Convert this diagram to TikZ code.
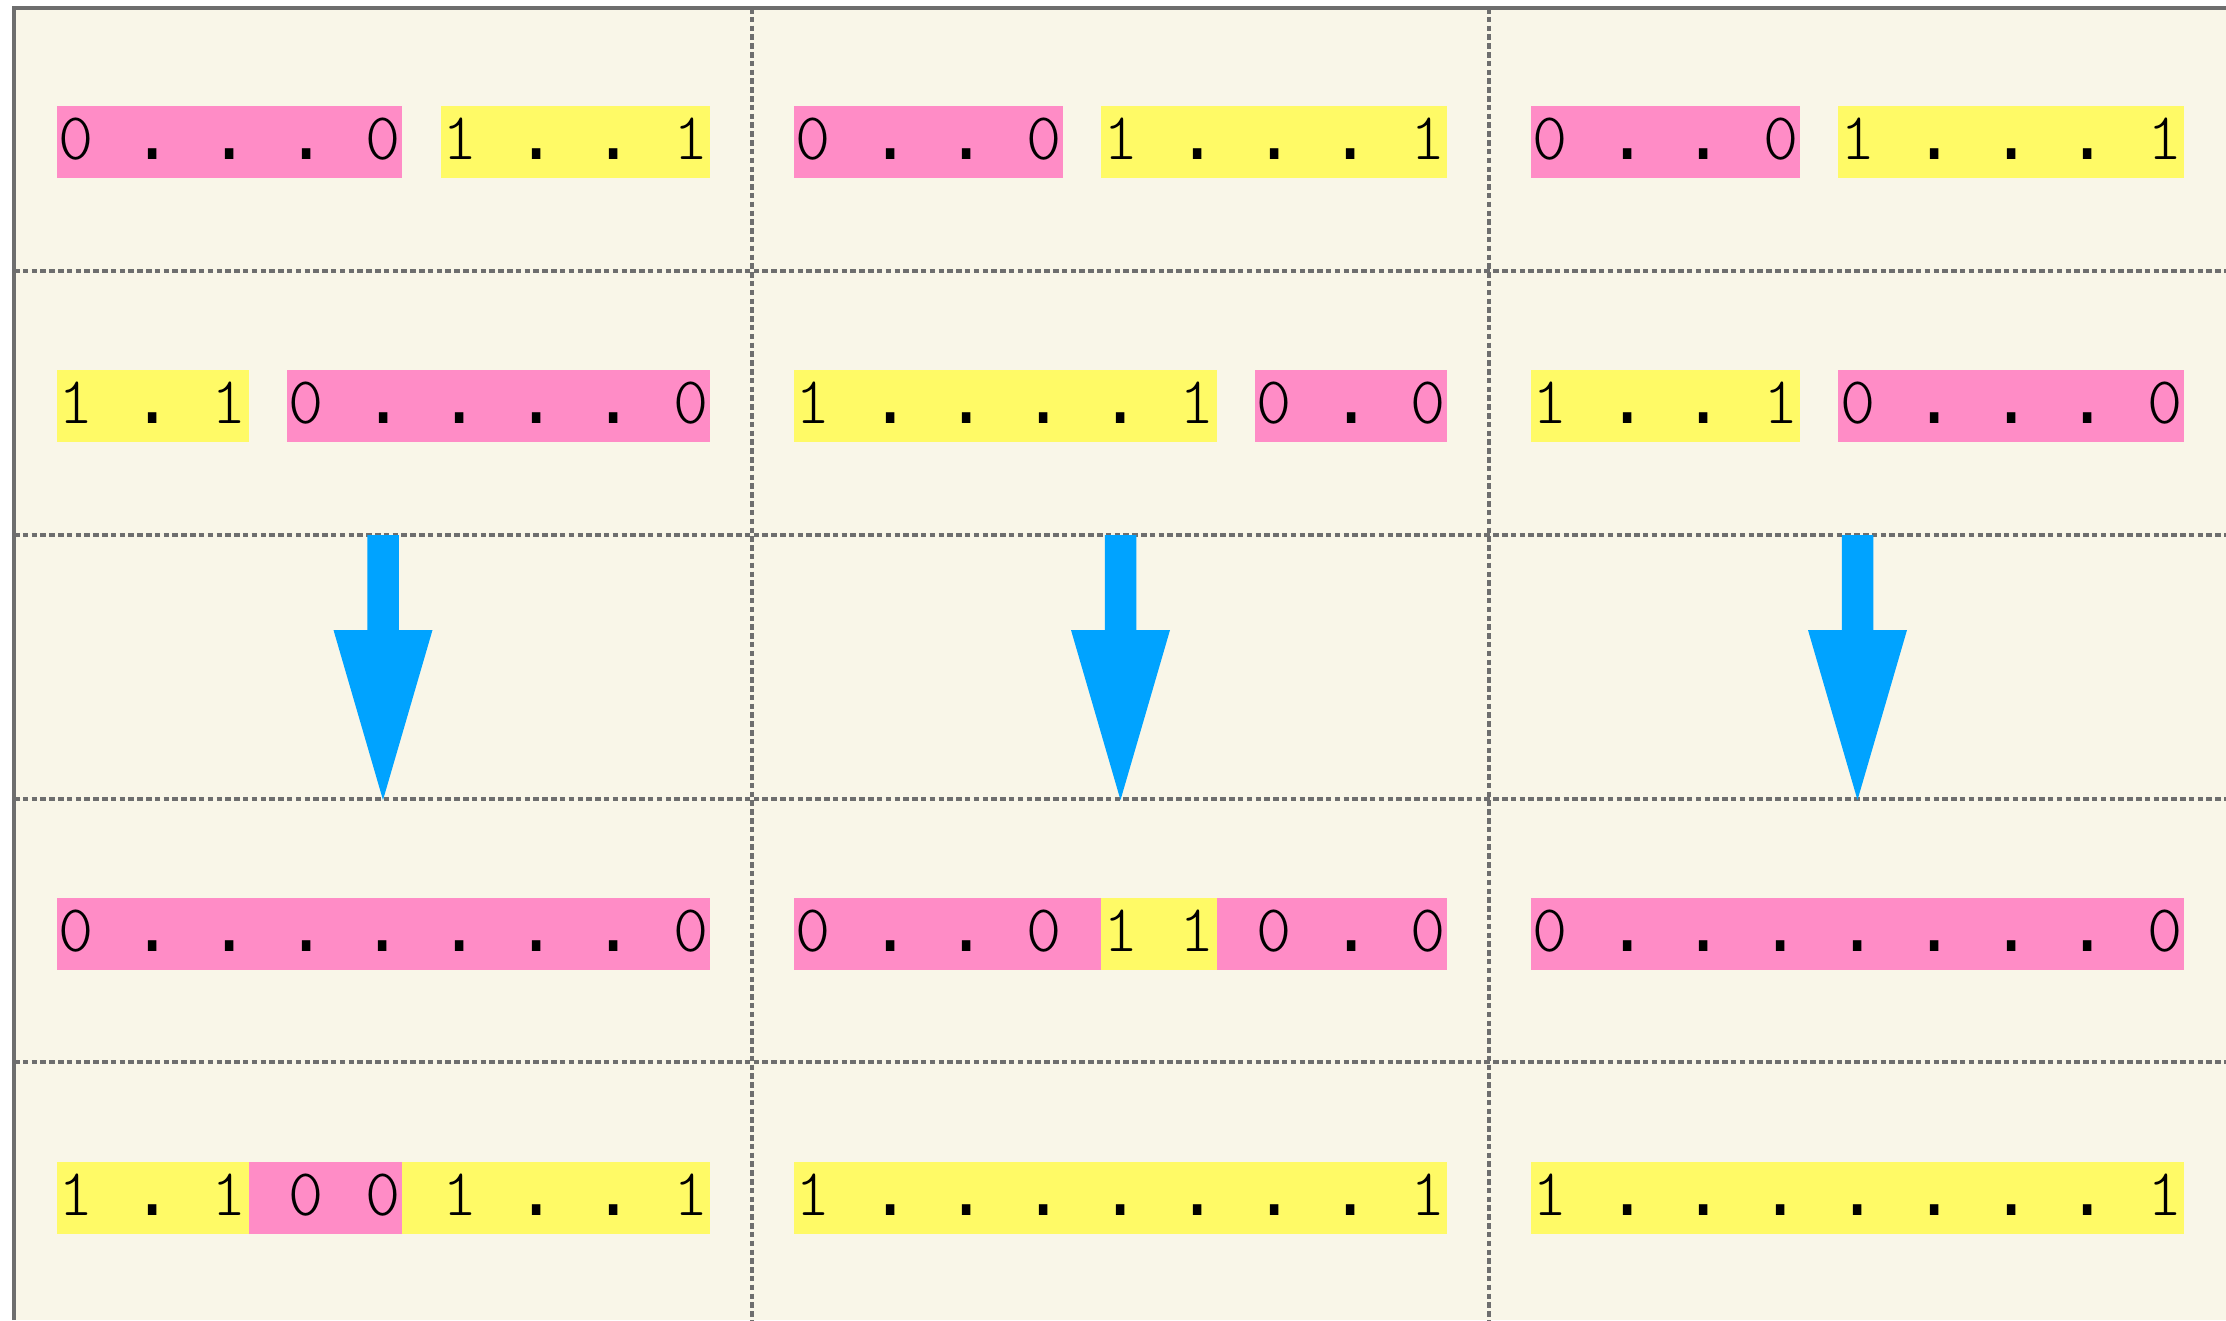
\documentclass[tikz,border=0pt]{standalone}
\usepackage{fontspec}
\usetikzlibrary{positioning}
\newfontfamily\digitfont{Latin Modern Mono Light}
\newfontfamily\dotfont{Liberation Mono}

\definecolor{paper}{HTML}{F9F6E8}
\definecolor{gridgray}{HTML}{6E6E6E}
\definecolor{barpink}{HTML}{FF8CC6}
\definecolor{baryellow}{HTML}{FFFA66}
\definecolor{arrowblue}{HTML}{00A3FF}

% one fixed-width slot per character; '-' stands for an empty slot
\newlength\slotw
\setlength\slotw{3.84mm}
\def\bitstr#1{\bitloop#1\relax}
\def\bitglyph#1{\ifx#1-\else\ifx#1.{\dotfont\fontsize{21pt}{21pt}\selectfont.}\else#1\fi\fi}
\def\bitloop#1{\ifx#1\relax\else\makebox[\slotw]{\bitglyph{#1}}\expandafter\bitloop\fi}

\tikzset{
  bar/.style={inner sep=0pt, outer sep=0pt, anchor=west,
    text height=5.33mm, text depth=1.82mm,
    font=\digitfont\fontsize{19pt}{19pt}\selectfont},
  pinkbar/.style={bar, fill=barpink},
  yellowbar/.style={bar, fill=baryellow},
  gridline/.style={gridgray, line width=0.9pt, dash pattern=on 0.55mm off 0.33mm},
  frameline/.style={gridgray, line width=0.9pt},
  downarrow/.style={fill=arrowblue, draw=none},
  node distance=\slotw
}

\begin{document}
\begin{tikzpicture}[x=0.01cm, y=-0.01cm]
  \useasboundingbox (0,0) rectangle (2226,1320);
  \fill[white] (0,0) rectangle (2226,1320);
  \fill[paper] (14,8) rectangle (2226,1320);

  % table grid
  \foreach \gx in {752,1489}
    \draw[gridline] (\gx,8) -- (\gx,1320);
  \foreach \gy in {271,535,799,1062}
    \draw[gridline] (14,\gy) -- (2226,\gy);
  \draw[frameline] (14,1320) -- (14,8) -- (2226,8);

  % row 1
  \node[pinkbar]   (r1c1a) at (56.6,141.75) {\bitstr{0-.-.-.-0}};
  \node[yellowbar, right=of r1c1a] (r1c1b) {\bitstr{1-.-.-1}};
  \node[pinkbar]   (r1c2a) at (794.1,141.75) {\bitstr{0-.-.-0}};
  \node[yellowbar, right=of r1c2a] (r1c2b) {\bitstr{1-.-.-.-1}};
  \node[pinkbar]   (r1c3a) at (1531.1,141.75) {\bitstr{0-.-.-0}};
  \node[yellowbar, right=of r1c3a] (r1c3b) {\bitstr{1-.-.-.-1}};

  % row 2
  \node[yellowbar] (r2c1a) at (56.6,405.75) {\bitstr{1-.-1}};
  \node[pinkbar, right=of r2c1a] (r2c1b) {\bitstr{0-.-.-.-.-0}};
  \node[yellowbar] (r2c2a) at (794.1,405.75) {\bitstr{1-.-.-.-.-1}};
  \node[pinkbar, right=of r2c2a] (r2c2b) {\bitstr{0-.-0}};
  \node[yellowbar] (r2c3a) at (1531.1,405.75) {\bitstr{1-.-.-1}};
  \node[pinkbar, right=of r2c3a] (r2c3b) {\bitstr{0-.-.-.-0}};

  % arrows
  \foreach \ax in {383,1120.5,1857.5}
    \fill[downarrow] (\ax-15.75,535) -- (\ax+15.75,535) -- (\ax+15.75,630)
      -- (\ax+49.5,630) -- (\ax,800) -- (\ax-49.5,630) -- (\ax-15.75,630) -- cycle;

  % row 4
  \node[pinkbar]   (r4c1a) at (56.6,933.75) {\bitstr{0-.-.-.-.-.-.-.-0}};
  \node[pinkbar]   (r4c2a) at (794.1,933.75) {\bitstr{0-.-.-0-}};
  \node[yellowbar, right=0pt of r4c2a] (r4c2b) {\bitstr{1-1}};
  \node[pinkbar, right=0pt of r4c2b] (r4c2c) {\bitstr{-0-.-0}};
  \node[pinkbar]   (r4c3a) at (1531.1,933.75) {\bitstr{0-.-.-.-.-.-.-.-0}};

  % row 5
  \node[yellowbar] (r5c1a) at (56.6,1197.75) {\bitstr{1-.-1}};
  \node[pinkbar, right=0pt of r5c1a] (r5c1b) {\bitstr{-0-0}};
  \node[yellowbar, right=0pt of r5c1b] (r5c1c) {\bitstr{-1-.-.-1}};
  \node[yellowbar] (r5c2a) at (794.1,1197.75) {\bitstr{1-.-.-.-.-.-.-.-1}};
  \node[yellowbar] (r5c3a) at (1531.1,1197.75) {\bitstr{1-.-.-.-.-.-.-.-1}};
\end{tikzpicture}
\end{document}
